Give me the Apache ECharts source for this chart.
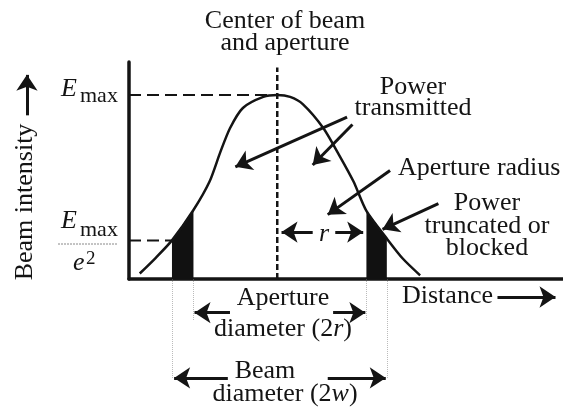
<!DOCTYPE html>
<html>
<head>
<meta charset="utf-8">
<title>Beam intensity</title>
<script src="https://cdn.jsdelivr.net/npm/echarts@6/dist/echarts.min.js"></script>
<style>
    html, body { margin: 0; padding: 0; background: #fff; }
    #main { width: 563px; height: 410px; }
</style>
</head>
<body>
<div id="main"></div>
<script>
// x: distance from beam centre, in units of beam radius w
// y: intensity, in units of Emax
var curveX = [-1.28, -1.14, -0.98, -0.78, -0.63, -0.53, -0.44, -0.32, -0.13, 0, 0.12, 0.24, 0.43, 0.58, 0.71, 0.83, 1.02, 1.17, 1.33];
var curveY = [0.03, 0.11, 0.21, 0.375, 0.53, 0.69, 0.82, 0.93, 0.99, 1.0, 0.99, 0.95, 0.82, 0.67, 0.53, 0.37, 0.22, 0.11, 0.02];

var centerX = 0;
var apertureEdges = [-0.78, 0.83];   // +-r
var beamEdges = [-0.98, 1.02];       // +-w
var eMax = 1;
var eMaxOverE2 = 0.21;
var centerLineTop = 1.15;
var apertureGuideEnd = -0.225;       // dotted guides under the axis
var beamGuideEnd = -0.54;

// annotation arrows [tail, tip]
var pointerArrows = [
    [[0.65, 0.88], [-0.39, 0.61]],    // power transmitted (left)
    [[0.70, 0.84], [0.33, 0.62]],     // power transmitted (right)
    [[1.05, 0.59], [0.47, 0.35]],     // aperture radius
    [[1.50, 0.41], [0.98, 0.27]]      // power truncated
];
var dimensionArrows = [
    [[0.33, 0.255], [0.04, 0.255]],   // r
    [[0.54, 0.255], [0.80, 0.255]],
    [[-0.44, -0.183], [-0.77, -0.183]], // 2r
    [[0.52, -0.183], [0.82, -0.183]],
    [[-0.46, -0.538], [-0.96, -0.538]], // 2w
    [[0.47, -0.538], [1.01, -0.538]],
    [[2.05, -0.098], [2.59, -0.098]], // distance
    [[-2.33, 0.89], [-2.33, 1.11]]    // beam intensity
];

var xMin = -1.38, xMax = 2.66, yMin = 0, yMax = 1.18;
var gridL = 129, gridT = 62, gridR = 0, gridB = 131;
var INK = '#141414';
var FONT = '"Liberation Serif", "Times New Roman", serif';

var curveData = curveX.map(function (x, i) { return [x, curveY[i]]; });

function between(a, b) {
    return curveData.filter(function (p) { return p[0] >= a && p[0] <= b; });
}

function dashed(data, dash, width) {
    return {
        type: 'line', data: data, showSymbol: false, silent: true,
        lineStyle: { color: INK, width: width, type: dash }
    };
}

function blackArea(data) {
    return {
        type: 'line', data: data, showSymbol: false, silent: true,
        lineStyle: { color: '#111', width: 1 },
        areaStyle: { color: '#111', opacity: 1 }
    };
}

function label(x, y, text, opt) {
    opt = opt || {};
    return {
        type: 'text', x: x, y: y, rotation: opt.rotation || 0, silent: true,
        style: {
            text: text,
            font: (opt.italic ? 'italic ' : '') + (opt.size || 26) + 'px ' + FONT,
            fill: INK,
            align: opt.align || 'center', textAlign: opt.align || 'center',
            verticalAlign: 'middle', textVerticalAlign: 'middle',
            lineHeight: opt.lh,
            rich: {
                i: { fontStyle: 'italic', fontSize: 26, fontFamily: FONT, fill: INK }
            }
        }
    };
}

var myChart = echarts.init(document.getElementById('main'));

var option = {
    animation: false,
    grid: { left: gridL, top: gridT, right: gridR, bottom: gridB },
    xAxis: {
        type: 'value', min: xMin, max: xMax,
        axisLine: { onZero: false, lineStyle: { color: INK, width: 3.5 } },
        axisTick: { show: false }, axisLabel: { show: false }, splitLine: { show: false }
    },
    yAxis: {
        type: 'value', min: yMin, max: yMax,
        axisLine: { show: true, onZero: false, lineStyle: { color: INK, width: 3.5 } },
        axisTick: { show: false }, axisLabel: { show: false }, splitLine: { show: false }
    },
    series: [
        blackArea(between(beamEdges[0], apertureEdges[0])),
        blackArea(between(apertureEdges[1], beamEdges[1])),
        {
            type: 'line', data: curveData, smooth: 0.25, showSymbol: false, silent: true,
            lineStyle: { color: INK, width: 2.5 }, z: 3
        },
        dashed([[xMin, eMax], [centerX, eMax]], [12, 6], 2),
        dashed([[xMin, eMaxOverE2], [beamEdges[0], eMaxOverE2]], [12, 6], 2),
        dashed([[centerX, 0], [centerX, centerLineTop]], [6, 3], 2.5),
        {
            // dotted guides below the axis
            type: 'lines', coordinateSystem: 'cartesian2d', clip: false, silent: true,
            lineStyle: { color: '#777', width: 1, type: 'dotted' },
            data: [
                { coords: [[apertureEdges[0], 0], [apertureEdges[0], apertureGuideEnd]] },
                { coords: [[apertureEdges[1], 0], [apertureEdges[1], apertureGuideEnd]] },
                { coords: [[beamEdges[0], 0], [beamEdges[0], beamGuideEnd]] },
                { coords: [[beamEdges[1], 0], [beamEdges[1], beamGuideEnd]] }
            ]
        },
        {
            type: 'lines', coordinateSystem: 'cartesian2d', clip: false, silent: true,
            symbol: ['none', 'arrow'], symbolSize: 16,
            lineStyle: { color: INK, width: 3, opacity: 1 },
            data: pointerArrows.concat(dimensionArrows).map(function (seg) {
                return { coords: seg };
            })
        }
    ],
    graphic: [
        label(285, 32, 'Center of beam\nand aperture', { lh: 22 }),
        label(413, 98, 'Power\ntransmitted', { lh: 21 }),
        label(398, 168, 'Aperture radius', { align: 'left' }),
        label(487, 226, 'Power\ntruncated or\nblocked', { lh: 22.5 }),
        label(402, 296, 'Distance', { align: 'left' }),
        label(283, 298, 'Aperture'),
        label(283, 329, 'diameter (2{i|r})'),
        label(265, 371, 'Beam'),
        label(285, 394, 'diameter (2{i|w})'),
        label(324, 234, 'r', { italic: true }),
        label(25, 202, 'Beam intensity', { rotation: Math.PI / 2 }),
        // Emax
        label(61, 89, 'E', { italic: true, align: 'left' }),
        label(80, 96, 'max', { size: 22, align: 'left' }),
        // Emax / e^2
        label(61, 221, 'E', { italic: true, align: 'left' }),
        label(80, 230, 'max', { size: 22, align: 'left' }),
        {
            type: 'line', silent: true,
            shape: { x1: 58, y1: 244, x2: 118, y2: 244 },
            style: { stroke: '#888', lineWidth: 1, lineDash: [2, 1] }
        },
        label(73, 263, 'e', { italic: true, align: 'left' }),
        label(86, 259, '2', { size: 19, align: 'left' })
    ]
};

myChart.setOption(option);
</script>
</body>
</html>
